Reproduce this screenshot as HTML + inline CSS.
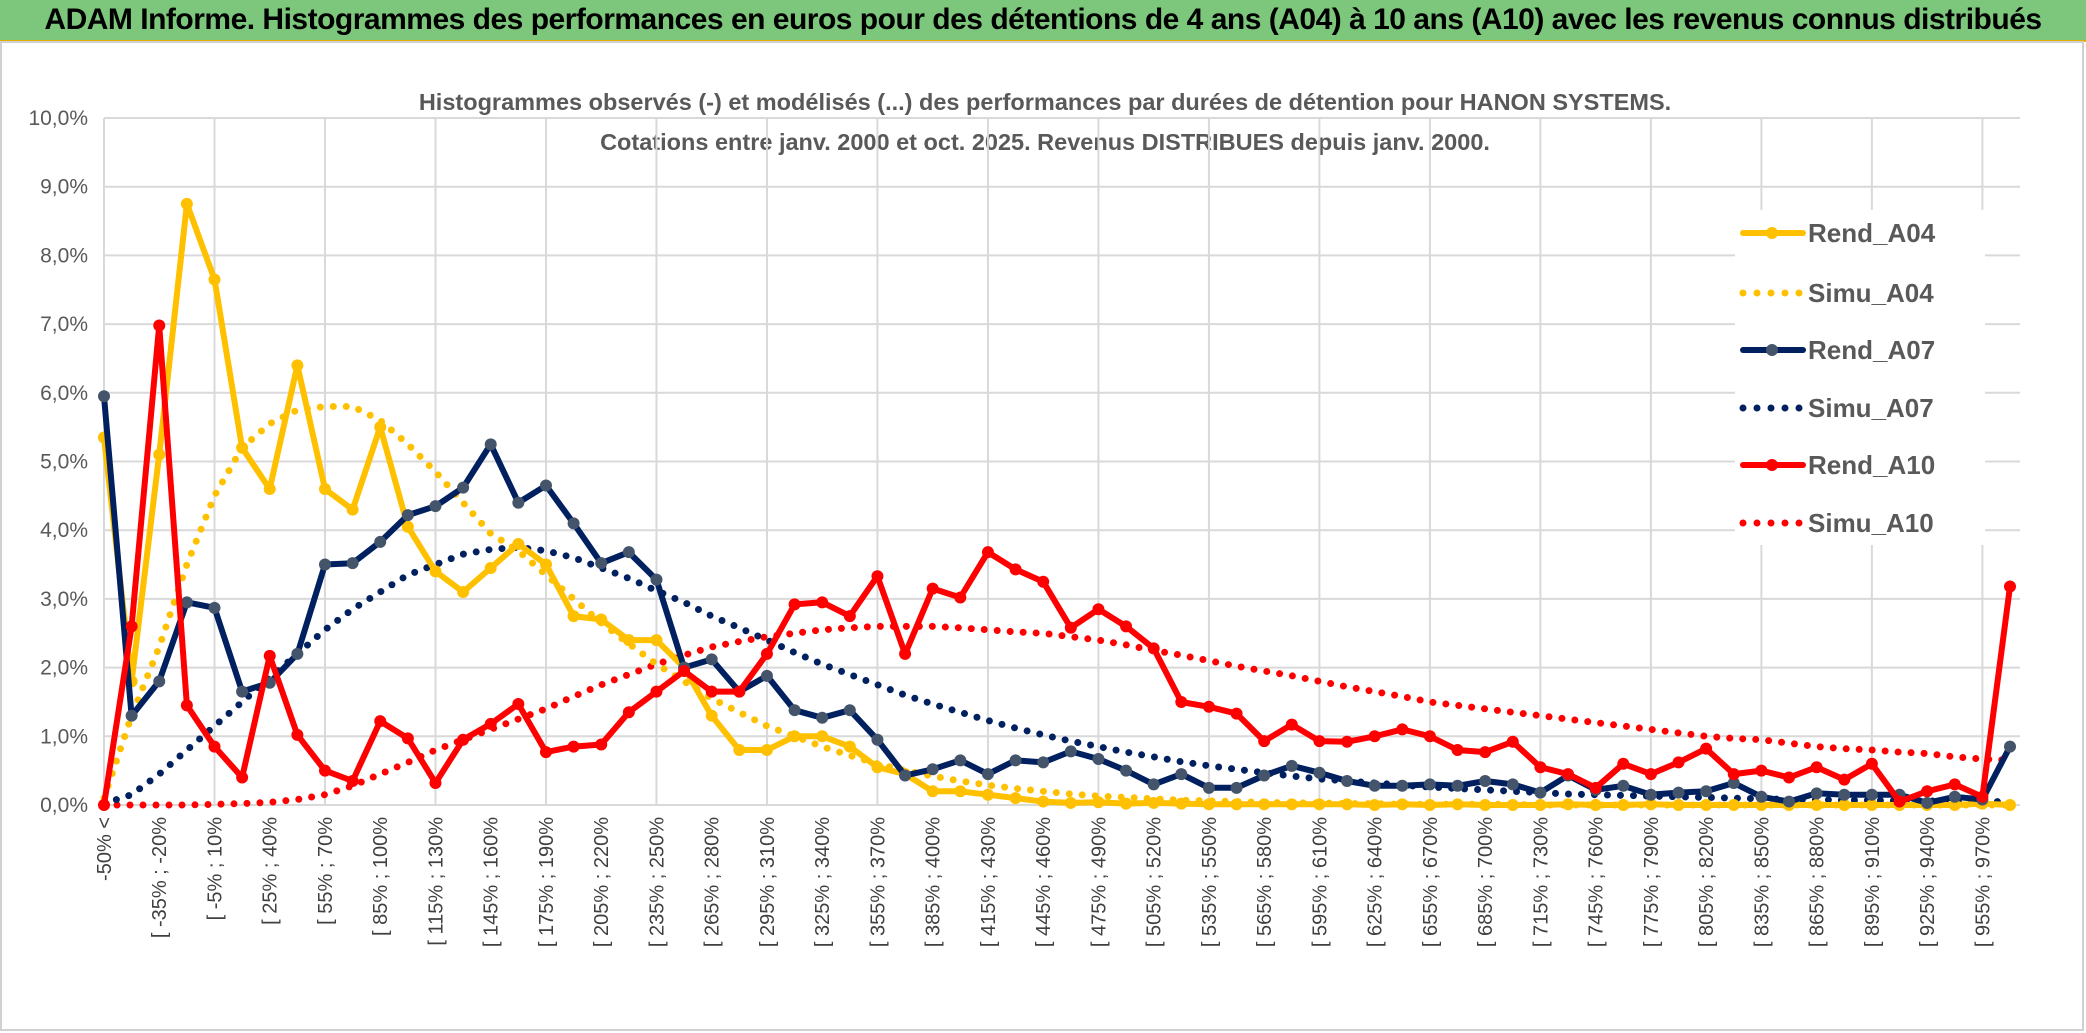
<!DOCTYPE html>
<html><head><meta charset="utf-8">
<style>
body{margin:0;background:#fff;}
#wrap{position:relative;width:2086px;height:1033px;overflow:hidden;font-family:"Liberation Sans",sans-serif;}
#titlebar{position:absolute;left:0;top:0;width:2086px;height:40px;background:#7cc77c;border-bottom:2px solid #e0b000;font-weight:bold;font-size:30px;color:#000;line-height:40px;text-align:center;letter-spacing:-0.5px;white-space:nowrap;}
svg{position:absolute;left:0;top:0;}
</style></head><body>
<div id="wrap">
<div id="titlebar">ADAM Informe. Histogrammes des performances en euros pour des détentions de 4 ans (A04) à 10 ans (A10) avec les revenus connus distribués</div>
<svg id="chart" width="2086" height="1033"></svg>
</div>
<script>
const rendA04=[5.35,1.8,5.1,8.75,7.65,5.2,4.6,6.4,4.6,4.3,5.5,4.05,3.4,3.1,3.45,3.8,3.5,2.75,2.7,2.4,2.4,2.0,1.3,0.8,0.8,1.0,1.0,0.85,0.55,0.45,0.2,0.2,0.15,0.1,0.05,0.03,0.04,0.02,0.03,0.02,0.01,0.01,0.01,0.01,0.01,0.01,0,0.01,0,0.01,0,0,0,0.01,0,0,0.01,0,0,0,0,0,0,0,0,0,0,0,0.02,0];
const simuA04=[0.1,1.3,2.3,3.5,4.5,5.2,5.55,5.75,5.8,5.8,5.6,5.25,4.85,4.4,3.95,3.7,3.35,3.0,2.65,2.35,2.05,1.8,1.55,1.35,1.15,1.0,0.85,0.72,0.6,0.5,0.42,0.35,0.29,0.24,0.2,0.16,0.13,0.11,0.09,0.07,0.06,0.05,0.04,0.03,0.03,0.02,0.02,0.01,0.01,0.01,0.01,0.01,0,0,0,0,0,0,0,0,0,0,0,0,0,0,0,0,0,0];
const rendA07=[5.95,1.3,1.8,2.95,2.87,1.65,1.78,2.2,3.5,3.52,3.83,4.22,4.35,4.62,5.25,4.4,4.65,4.1,3.52,3.68,3.28,2.0,2.12,1.65,1.88,1.38,1.27,1.38,0.95,0.43,0.52,0.65,0.45,0.65,0.62,0.78,0.67,0.5,0.3,0.45,0.25,0.25,0.43,0.57,0.47,0.35,0.28,0.28,0.3,0.28,0.35,0.3,0.18,0.43,0.22,0.28,0.15,0.18,0.2,0.32,0.12,0.05,0.17,0.15,0.15,0.15,0.03,0.12,0.08,0.85];
const simuA07=[0.02,0.15,0.45,0.8,1.15,1.5,1.85,2.2,2.55,2.85,3.1,3.35,3.5,3.65,3.72,3.75,3.7,3.6,3.45,3.3,3.12,2.95,2.75,2.58,2.4,2.22,2.05,1.9,1.75,1.6,1.47,1.35,1.23,1.12,1.02,0.93,0.85,0.77,0.7,0.63,0.57,0.52,0.47,0.42,0.38,0.35,0.32,0.29,0.26,0.24,0.22,0.2,0.18,0.16,0.15,0.14,0.13,0.12,0.11,0.1,0.09,0.08,0.08,0.07,0.07,0.06,0.06,0.05,0.05,0.05];
const rendA10=[0,2.6,6.98,1.45,0.85,0.4,2.17,1.02,0.5,0.35,1.22,0.97,0.32,0.95,1.18,1.47,0.77,0.85,0.88,1.35,1.65,1.95,1.65,1.65,2.2,2.92,2.95,2.75,3.33,2.2,3.15,3.02,3.68,3.43,3.25,2.58,2.85,2.6,2.28,1.5,1.43,1.33,0.93,1.17,0.93,0.92,1.0,1.1,1.0,0.8,0.77,0.92,0.55,0.45,0.25,0.6,0.45,0.62,0.82,0.45,0.5,0.4,0.55,0.37,0.6,0.05,0.2,0.3,0.12,3.18];
const simuA10=[0,0,0,0,0.01,0.02,0.04,0.08,0.15,0.28,0.45,0.62,0.8,0.95,1.1,1.25,1.4,1.58,1.75,1.9,2.05,2.18,2.3,2.38,2.45,2.5,2.55,2.58,2.6,2.6,2.6,2.58,2.55,2.52,2.5,2.45,2.4,2.33,2.25,2.18,2.1,2.02,1.95,1.88,1.8,1.72,1.65,1.58,1.5,1.45,1.4,1.35,1.3,1.25,1.2,1.15,1.1,1.05,1.0,0.97,0.95,0.9,0.85,0.82,0.8,0.77,0.75,0.7,0.67,0.65];
const yTicks=[0,1,2,3,4,5,6,7,8,9,10];
const nCats=70;
const catLabels=[];
for(let i=0;i<nCats;i++){ if(i===0) catLabels.push('-50% <'); else { const a=-50+15*(i-1); catLabels.push('[ '+a+'% ; '+(a+15)+'%'); } }

const NS='http://www.w3.org/2000/svg';
const svg=document.getElementById('chart');
const X0=104,X1=2010,Y0=805,PER=68.7;
const xS=i=>X0+i*(X1-X0)/(nCats-1);
const yS=v=>Y0-v*PER;
function mk(tag,attrs,parent){const e=document.createElementNS(NS,tag);for(const k in attrs)e.setAttribute(k,attrs[k]);(parent||svg).appendChild(e);return e;}

const fr=mk('rect',{x:1,y:42,width:2082,height:988,fill:'none',stroke:'#d0d0d0','stroke-width':2});



const st=mk('text',{x:1045,y:110,'text-anchor':'middle','font-size':23.5,fill:'#595959','font-weight':'bold'});


const t1=mk('tspan',{x:1045,y:110},st);t1.textContent='Histogrammes observés (-) et modélisés (...) des performances par durées de détention pour HANON SYSTEMS.';
const t2=mk('tspan',{x:1045,y:150},st);t2.textContent='Cotations entre janv. 2000 et oct. 2025. Revenus DISTRIBUES depuis janv. 2000.';

yTicks.forEach(v=>{
  const l=mk('line',{x1:X0,x2:2020,y1:yS(v),y2:yS(v),stroke:'#d9d9d9','stroke-width':2});
  
  
  const t=mk('text',{x:88,y:yS(v)+7,'text-anchor':'end','font-size':21,fill:'#595959'});
  
  
  t.textContent=v.toFixed(1).replace('.',',')+'%';
});
for(let i=0;i<nCats;i+=4){
  const l=mk('line',{x1:xS(i),x2:xS(i),y1:yS(10),y2:Y0,stroke:'#d9d9d9','stroke-width':2});
  
  
}
for(let i=0;i<nCats;i+=2){
  const t=mk('text',{x:0,y:0,'text-anchor':'end','font-size':20,fill:'#404040',transform:'translate('+(xS(i)+7)+','+(Y0+12)+') rotate(-90)'});
  
  
  t.textContent=catLabels[i];
}

function series(data,color,dotted,marker,name){
  const pts=data.map((v,i)=>xS(i).toFixed(1)+','+yS(v).toFixed(1)).join(' ');
  const g=mk('g',{});
  
  
  const p=mk('polyline',{points:pts,fill:'none',stroke:color,'stroke-width':dotted?7:6,'stroke-linejoin':'round','stroke-linecap':'round'},g);
  if(dotted)p.setAttribute('stroke-dasharray','0 13');
  
  
  if(marker){data.forEach((v,i)=>{
    const c=mk('circle',{cx:xS(i),cy:yS(v),r:6,fill:marker},g);
    
    
  });}
}
series(simuA10,'#ff0000',true,null,'simu-a10');
series(simuA07,'#002060',true,null,'simu-a07');
series(simuA04,'#ffc000',true,null,'simu-a04');
series(rendA04,'#ffc000',false,'#ffc000','rend-a04');
series(rendA07,'#002060',false,'#44546a','rend-a07');
series(rendA10,'#ff0000',false,'#ff0000','rend-a10');

const lg=mk('g',{});


mk('rect',{x:1735,y:210,width:250,height:335,fill:'#fff'},lg);
const legItems=[['Rend_A04','#ffc000',false,'#ffc000'],['Simu_A04','#ffc000',true,null],['Rend_A07','#002060',false,'#44546a'],['Simu_A07','#002060',true,null],['Rend_A10','#ff0000',false,'#ff0000'],['Simu_A10','#ff0000',true,null]];
const legY=[233,293,350,408,465,523];
legItems.forEach((it,k)=>{
  const e=mk('g',{},lg);
  
  
  const y=legY[k];
  const l=mk('line',{x1:1743,x2:1803,y1:y,y2:y,stroke:it[1],'stroke-width':it[2]?7:6,'stroke-linecap':'round'},e);
  if(it[2])l.setAttribute('stroke-dasharray','0 14');
  if(it[3])mk('circle',{cx:1772,cy:y,r:6,fill:it[3]},e);
  const t=mk('text',{x:1808,y:y+9,'font-size':26,fill:'#595959','font-weight':'bold'},e);
  t.textContent=it[0];
});
</script>
</body></html>
